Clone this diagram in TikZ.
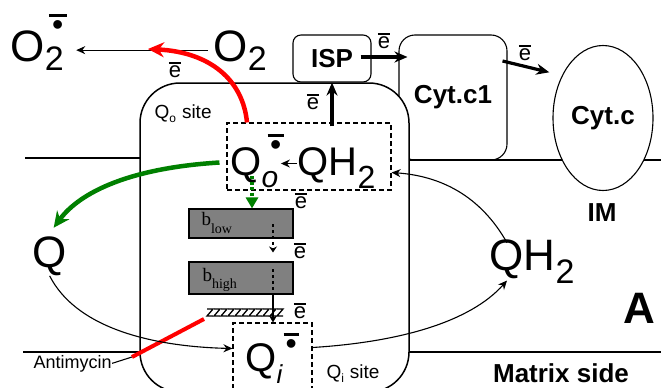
\documentclass[tikz,border=0pt]{standalone}
\usepackage{fontspec}
\setmainfont{Liberation Sans}
\newfontfamily\bfont{Liberation Serif}
\usetikzlibrary{arrows.meta,shapes.geometric,positioning}

\definecolor{qgreen}{RGB}{0,128,0}
\definecolor{qred}{RGB}{255,0,0}
\definecolor{bgray}{RGB}{128,128,128}

\newcommand{\elec}{\vbox{\hrule height 1.6pt\kern 2pt\hbox{e}}}
\newcommand{\radmark}[2]{\kern#1\vbox{\hrule width #2 height 3pt\kern 3pt\hbox to #2{\hss\fontsize{32}{32}\selectfont\textbullet\hss}}}
\newcommand{\supsub}[4]{\rlap{\raisebox{#1}{#2}}\raisebox{-#3}{#4}}
\newcommand{\subsz}[2]{{\fontsize{#1}{#1}\selectfont #2}}

\tikzset{
  big/.style={font=\fontsize{44}{44}\selectfont,inner sep=0pt,anchor=base west},
  mid/.style={font=\fontsize{40}{40}\selectfont,inner sep=0pt,anchor=base west},
  lbl/.style={font=\bfseries\fontsize{26}{26}\selectfont},
  elab/.style={font=\fontsize{22}{22}\selectfont,inner sep=0pt},
  site/.style={font=\fontsize{19}{19}\selectfont,inner sep=0pt,anchor=base west},
  bbox/.style={draw,fill=bgray,minimum width=104pt,inner sep=0pt},
  blbl/.style={font=\bfont\fontsize{19}{19}\selectfont,inner sep=0pt,anchor=base west},
  qbox/.style={draw,dash pattern=on 5pt off 3pt,inner sep=0pt},
  eflow/.style={-{Stealth[length=13pt,width=11pt]},line width=3.2pt},
  thinarr/.style={-{Stealth[length=9pt,width=8pt]}}
}

\begin{document}
\begin{tikzpicture}[x=1pt,y=-1pt,line width=1.1pt]
\useasboundingbox (0,0) rectangle (661,388);

\draw (25,158) -- (300,158);
\draw (300,160) -- (661,160);
\draw (23,352) -- (661,352);

\node[draw,rounded corners=16pt,minimum width=108pt,minimum height=125pt,lbl] (cytc1) at (453,97.5) {Cyt.c1};
\node[draw,fill=white,line width=1.5pt,rounded corners=40pt,minimum width=269pt,minimum height=309pt] (bc1) at (274.5,237.5) {};
\node[draw,fill=white,ellipse,minimum width=100pt,minimum height=145pt,inner sep=0pt,lbl] (cytc) at (603,118) {Cyt.c};
\node[draw,fill=white,rounded corners=8pt,minimum width=78pt,minimum height=47pt,lbl] (ISP) at (332,58.5) {ISP};

\node[lbl,inner sep=0pt] (IM) at (602,213) {IM};
\node[lbl,inner sep=0pt] (matrix) at (561,373) {Matrix side};
\node[font=\bfseries\fontsize{44}{44}\selectfont,inner sep=0pt] (A) at (639,308) {A};

\node[big] (O2r) at (10,61) {O\supsub{26pt}{\radmark{4pt}{18pt}}{9pt}{\subsz{34}{2}}};
\node[big] (O2) at (213,61) {O\raisebox{-9pt}{\subsz{34}{2}}};
\node[big] (Q) at (32,267) {Q};
\node[big] (QH2) at (489,270) {QH\raisebox{-13pt}{\subsz{34}{2}}};

\node[qbox,minimum width=164pt,minimum height=67pt] (qobox) at (309,156.5) {};
\node[qbox,minimum width=79pt,minimum height=77pt] (qibox) at (272.5,361.5) {};
\node[mid] (Qo) at (230,175) {Q\supsub{20pt}{\radmark{6pt}{16pt}}{12pt}{\subsz{30}{\itshape o}}};
\node[mid] (QH2o) at (297,175) {QH\raisebox{-13pt}{\subsz{32}{2}}};
\node[mid] (Qi) at (245,371) {Q\supsub{17pt}{\radmark{7pt}{15pt}}{12pt}{\subsz{26}{\itshape i}}};

\node[site] (qosite) at (154,118) {Q\raisebox{-4pt}{\subsz{12}{o}}\hspace{6pt}site};
\node[site] (qisite) at (326,378) {Q\raisebox{-4pt}{\subsz{12}{i}}\hspace{6pt}site};

\node[bbox,minimum height=29pt] (blow) at (241,223.5) {};
\node[bbox,minimum height=32pt] (bhigh) at (241,278) {};
\node[blbl] (blowl) at (201,225) {b\raisebox{-8pt}{\subsz{14}{low}}};
\node[blbl] (bhighl) at (202,281) {b\raisebox{-7pt}{\subsz{14}{high}}};

\node[font=\fontsize{18}{18}\selectfont,inner sep=0pt,anchor=base west] (amyc) at (33,368) {Antimycin};

\foreach \x/\y [count=\n] in {175/70,313/102,384/41,525/53,301/201,300/251,300/311}
  \node[elab] (e\n) at (\x,\y) {\elec};

\foreach \x in {207,214,...,281}
  \draw[line width=1.3pt] (\x,309) -- (\x+6,309) -- (\x,316) -- (\x+6,316);

\coordinate (redtip) at (148,49);
\coordinate (gs) at (252,176);
\coordinate (bx) at (273,224);
\coordinate (amc) at (132,357);
\coordinate (hatchw) at (204,319);

\draw[thinarr,shorten <=5pt,shorten >=12pt] (O2.west) -- (O2.west -| O2r.east);
\draw[qred,line width=4.5pt,-{Stealth[length=16pt,width=15pt]}] ([xshift=-62pt]qobox.north) .. controls (243,80) and (210,52) .. (redtip);
\draw[qgreen,line width=4.5pt,-{Stealth[length=16pt,width=15pt]}] ([xshift=-7pt,yshift=-6pt]qobox.west) .. controls (130,168) and (80,192) .. ([xshift=4pt,yshift=8pt]Q.north);
\draw[qgreen,line width=3.5pt,dash pattern=on 3pt off 2.5pt,-{Triangle[length=11pt,width=12pt]}] (gs) -- (gs |- blow.north);

\draw[thinarr,shorten >=2pt] ([yshift=4pt]QH2o.west) -- ([yshift=4pt]QH2o.west -| Qo.east);
\draw[eflow] (ISP.south |- qobox.north) ++(0,4) -- (ISP.south);
\draw[eflow] ([xshift=-11pt,yshift=1.5pt]ISP.east) -- ([xshift=9pt,yshift=1.5pt]ISP.east -| cytc1.west);
\draw[eflow] ([xshift=-5pt,yshift=36.5pt]cytc1.east) -- ([xshift=-10pt,yshift=9pt]cytc.140);

\draw[line width=2.8pt,dash pattern=on 3pt off 3pt,-{Stealth[length=6pt,width=8pt]},shorten >=9pt] (bx) -- (bx |- bhigh.north);
\draw[line width=2.8pt,dash pattern=on 3pt off 3pt] ([yshift=-8pt]bx |- bhigh.north) -- ([yshift=4pt]bx |- bhigh.south);
\draw[line width=2.4pt,-{Stealth[length=7pt,width=8pt]}] (bx |- bhigh.south) -- (bx |- qibox.north);

\draw (amyc.east) -- (amc);
\draw[qred,line width=4pt] (amc) -- (hatchw);

\draw[thinarr] (Q.south) .. controls (80,335) and (170,347) .. ([yshift=13pt]qibox.west);
\draw[thinarr] ([yshift=14pt]qibox.east) .. controls (400,342) and (470,322) .. ([xshift=18pt,yshift=3pt]QH2.south west);
\draw[thinarr] ([xshift=18pt,yshift=-4pt]QH2.north west) .. controls (480,195) and (440,176) .. ([yshift=-16pt]qobox.east);
\end{tikzpicture}
\end{document}
